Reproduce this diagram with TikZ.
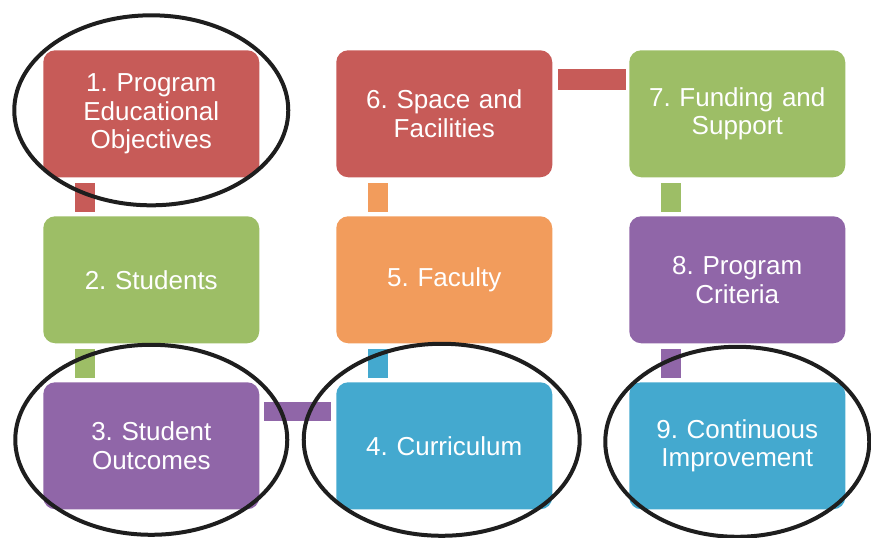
\documentclass[tikz,border=0pt]{standalone}
\usepackage{fontspec}
\setmainfont{Liberation Sans}
\usetikzlibrary{matrix,positioning}
\definecolor{boxred}{HTML}{C75B58}
\definecolor{boxgreen}{HTML}{9DBE66}
\definecolor{boxorange}{HTML}{F29C5C}
\definecolor{boxpurple}{HTML}{9066A8}
\definecolor{boxblue}{HTML}{44A9CF}
\definecolor{ringgray}{HTML}{1E1E1E}
\tikzset{
block/.style={
    rectangle,
    rounded corners=9pt,
    minimum width=162pt,
    minimum height=95.25pt,
    text width=150pt,
    align=center,
    text=white,
    font=\fontsize{19.5}{21.5}\selectfont,
    inner sep=0pt,
    anchor=center
},
ring/.style={
    draw=ringgray,
    line width=3pt
}
}
\frenchspacing
\begin{document}
\begin{tikzpicture}
\useasboundingbox (0,0) rectangle (653.25pt,-402.75pt);
\matrix (m) at (32.25pt,-37.5pt) [anchor=north west, inner sep=0pt, matrix of nodes, column sep=57.75pt, row sep=29.25pt, nodes={block}]{
|[fill=boxred]| {1. Program\\Educational\\Objectives} & |[fill=boxred]| {6. Space and\\Facilities} & |[fill=boxgreen]| {7. Funding and\\Support} \\
|[fill=boxgreen]| {2. Students} & |[fill=boxorange]| {5. Faculty} & |[fill=boxpurple]| {8. Program\\Criteria} \\
|[fill=boxpurple]| {3. Student\\Outcomes} & |[fill=boxblue]| {4. Curriculum} & |[fill=boxblue]| {9. Continuous\\Improvement} \\
};

% links between the boxes
\fill[boxred] ([xshift=24pt,yshift=-3.75pt]m-1-1.south west) rectangle ([xshift=39pt,yshift=3pt]m-2-1.north west);
\fill[boxgreen] ([xshift=24pt,yshift=-3.75pt]m-2-1.south west) rectangle ([xshift=39pt,yshift=3pt]m-3-1.north west);
\fill[boxpurple] ([xshift=3pt,yshift=-15pt]m-3-1.north east) rectangle ([xshift=-3.75pt,yshift=-29.25pt]m-3-2.north west);
\fill[boxblue] ([xshift=24pt,yshift=3pt]m-3-2.north west) rectangle ([xshift=39pt,yshift=-3.75pt]m-2-2.south west);
\fill[boxorange] ([xshift=24pt,yshift=3pt]m-2-2.north west) rectangle ([xshift=39pt,yshift=-3.75pt]m-1-2.south west);
\fill[boxred] ([xshift=3.75pt,yshift=-14.25pt]m-1-2.north east) rectangle ([xshift=-2.25pt,yshift=-30pt]m-1-3.north west);
\fill[boxgreen] ([xshift=24pt,yshift=-3.75pt]m-1-3.south west) rectangle ([xshift=39pt,yshift=3pt]m-2-3.north west);
\fill[boxpurple] ([xshift=24pt,yshift=-3.75pt]m-2-3.south west) rectangle ([xshift=39pt,yshift=3pt]m-3-3.north west);

% hand drawn rings
\draw[ring] ([yshift=2.6pt]m-1-1.center) ellipse (102.75pt and 71.25pt);
\draw[ring] ([yshift=4.5pt]m-3-1.center) ellipse (102pt and 71.25pt);
\draw[ring] ([xshift=-1.9pt,yshift=4.5pt]m-3-2.center) ellipse (103.5pt and 72pt);
\draw[ring] ([yshift=3pt]m-3-3.center) ellipse (99pt and 71.25pt);
\end{tikzpicture}
\end{document}
